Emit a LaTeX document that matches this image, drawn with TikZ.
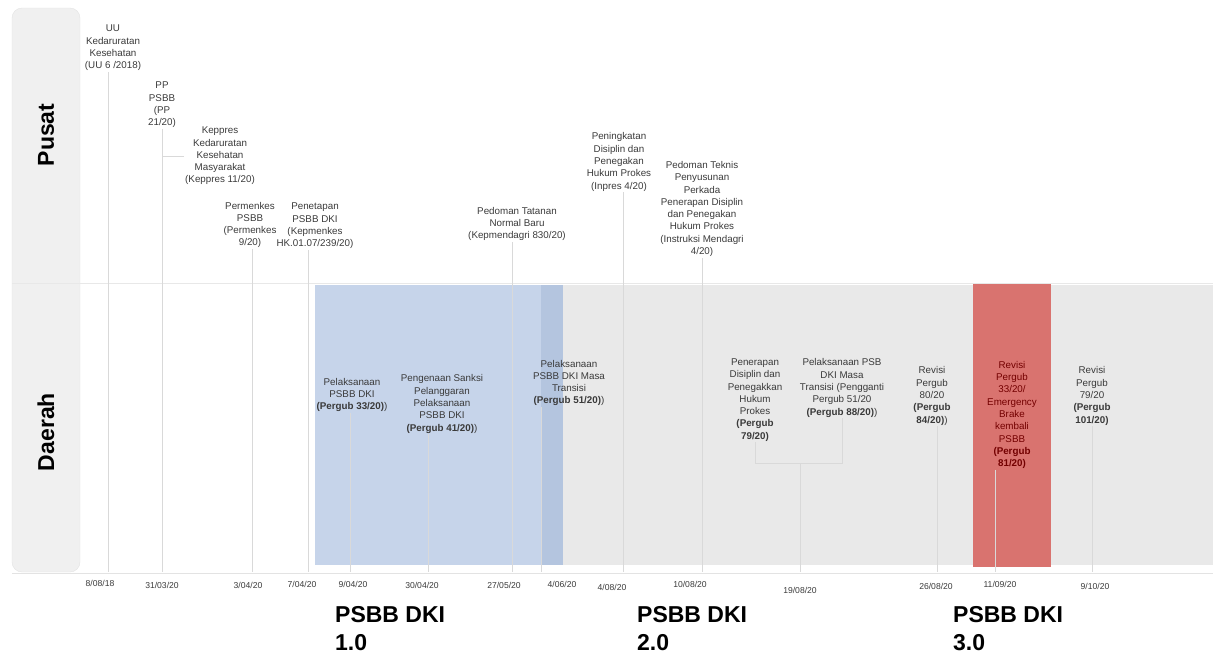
\documentclass[tikz,border=0pt]{standalone}
\usepackage{fontspec}
\setmainfont{Liberation Sans}
\definecolor{psbbblue}{HTML}{C6D4EA}
\definecolor{psbbblueb}{HTML}{B4C5DF}
\definecolor{psbbred}{HTML}{D9736F}
\definecolor{lanegrey}{HTML}{E9E9E9}
\definecolor{evtext}{HTML}{3A3A3A}
\begin{document}
\begin{tikzpicture}[x=1pt,y=-1pt,
    ev/.style={align=center, inner sep=1pt, text=evtext, font=\fontsize{9.8}{12.3}\selectfont},
    dt/.style={inner sep=0pt, text=evtext, font=\fontsize{8.6}{9}\selectfont},
    guide/.style={draw=black!15, line width=0.5pt},
    big/.style={align=left, anchor=north west, inner sep=0pt, font=\fontsize{23}{28}\selectfont\bfseries},
    lane/.style={rotate=90, inner sep=0pt, font=\fontsize{23}{24}\selectfont\bfseries}
  ]
  \useasboundingbox (0,0) rectangle (1213,657);

  % lanes and periods
  \draw[fill=black!6, draw=black!11, rounded corners=10pt] (12,8) rectangle (80,572);
  \fill[lanegrey] (563,285) rectangle (1213,565);
  \fill[psbbblue] (315,285) rectangle (563,565);
  \fill[psbbblueb] (541,285) rectangle (563,565);
  \fill[psbbred] (973,283) rectangle (1051,567);
  \draw[black!9] (12,283) -- (1213,283);
  \draw[black!11] (12,573) -- (1213,573);

  \node[lane] (pusat) at (46,135) {Pusat};
  \node[lane] (daerah) at (46,432) {Daerah};

  % points on the time axis
  \coordinate (t1) at (108,572);
  \coordinate (t2) at (162,572);
  \coordinate (t3) at (252,572);
  \coordinate (t4) at (308,572);
  \coordinate (t5) at (350,572);
  \coordinate (t6) at (428,572);
  \coordinate (t7) at (512,572);
  \coordinate (t8) at (541,572);
  \coordinate (t9) at (623,572);
  \coordinate (t10) at (702,572);
  \coordinate (t11) at (800,572);
  \coordinate (t12) at (937,572);
  \coordinate (t13) at (995,572);
  \coordinate (t14) at (1092,572);
  \coordinate (j11) at (800,463);

  % Pusat
  \node[ev] (uu) at (113,48) {UU\\Kedaruratan\\Kesehatan\\(UU 6 /2018)};
  \node[ev] (pp) at (162,105) {PP\\PSBB\\(PP\\21/20)};
  \node[ev] (keppres) at (220,156) {Keppres\\Kedaruratan\\Kesehatan\\Masyarakat\\(Keppres 11/20)};
  \node[ev] (permenkes) at (250,225) {Permenkes\\PSBB\\(Permenkes\\9/20)};
  \node[ev] (penetapan) at (315,226) {Penetapan\\PSBB DKI\\(Kepmenkes\\HK.01.07/239/20)};
  \node[ev] (tatanan) at (517,224) {Pedoman Tatanan\\Normal Baru\\(Kepmendagri 830/20)};
  \node[ev] (inpres) at (619,162) {Peningkatan\\Disiplin dan\\Penegakan\\Hukum Prokes\\(Inpres 4/20)};
  \node[ev] (mendagri) at (702,209) {Pedoman Teknis\\Penyusunan\\Perkada\\Penerapan Disiplin\\dan Penegakan\\Hukum Prokes\\(Instruksi Mendagri\\4/20)};

  % Daerah
  \node[ev] (p33) at (352,395) {Pelaksanaan\\PSBB DKI\\\textbf{(Pergub 33/20)})};
  \node[ev] (p41) at (442,404) {Pengenaan Sanksi\\Pelanggaran\\Pelaksanaan\\PSBB DKI\\\textbf{(Pergub 41/20)})};
  \node[ev] (p51) at (569,383) {Pelaksanaan\\PSBB DKI Masa\\Transisi\\\textbf{(Pergub 51/20)})};
  \node[ev] (p79) at (755,400) {Penerapan\\Disiplin dan\\Penegakkan\\Hukum\\Prokes\\\textbf{(Pergub}\\\textbf{79/20)}};
  \node[ev] (p88) at (842,388) {Pelaksanaan PSB\\DKI Masa\\Transisi (Pengganti\\Pergub 51/20\\\textbf{(Pergub 88/20)})};
  \node[ev] (p84) at (932,396) {Revisi\\Pergub\\80/20\\\textbf{(Pergub}\\\textbf{84/20)})};
  \node[ev, text=red!45!black] (p81) at (1012,415) {Revisi\\Pergub\\33/20/\\Emergency\\Brake\\kembali\\PSBB\\\textbf{(Pergub}\\\textbf{81/20)}};
  \node[ev] (p101) at (1092,396) {Revisi\\Pergub\\79/20\\\textbf{(Pergub}\\\textbf{101/20)}};

  % guides down to the axis
  \draw[guide] (uu.south -| t1) -- (t1);
  \draw[guide] (pp.south -| t2) -- (t2);
  \draw[guide] (keppres.west) -- (keppres.west -| t2);
  \draw[guide] (permenkes.south -| t3) -- (t3);
  \draw[guide] (penetapan.south -| t4) -- (t4);
  \draw[guide] (p33.south -| t5) -- (t5);
  \draw[guide] (p41.south -| t6) -- (t6);
  \draw[guide] (tatanan.south -| t7) -- (t7);
  \draw[guide] (p51.south -| t8) -- (t8);
  \draw[guide] (inpres.south -| t9) -- (t9);
  \draw[guide] (mendagri.south -| t10) -- (t10);
  \draw[guide] (p79.south) |- (j11);
  \draw[guide] (p88.south) |- (j11);
  \draw[guide] (j11) -- (t11);
  \draw[guide] (p84.south -| t12) -- (t12);
  \draw[guide] (p81.south -| t13) -- (t13);
  \draw[guide] (p101.south -| t14) -- (t14);

  % dates
  \node[dt] (d1) at (100,583) {8/08/18};
  \node[dt] (d2) at (162,585) {31/03/20};
  \node[dt] (d3) at (248,585) {3/04/20};
  \node[dt] (d4) at (302,584) {7/04/20};
  \node[dt] (d5) at (353,584) {9/04/20};
  \node[dt] (d6) at (422,585) {30/04/20};
  \node[dt] (d7) at (504,585) {27/05/20};
  \node[dt] (d8) at (562,584) {4/06/20};
  \node[dt] (d9) at (612,587) {4/08/20};
  \node[dt] (d10) at (690,584) {10/08/20};
  \node[dt] (d11) at (800,590) {19/08/20};
  \node[dt] (d12) at (936,586) {26/08/20};
  \node[dt] (d13) at (1000,584) {11/09/20};
  \node[dt] (d14) at (1095,586) {9/10/20};

  \node[big] (dki1) at (335,606) {PSBB DKI\\1.0};
  \node[big] (dki2) at (637,606) {PSBB DKI\\2.0};
  \node[big] (dki3) at (953,606) {PSBB DKI\\3.0};
\end{tikzpicture}
\end{document}
